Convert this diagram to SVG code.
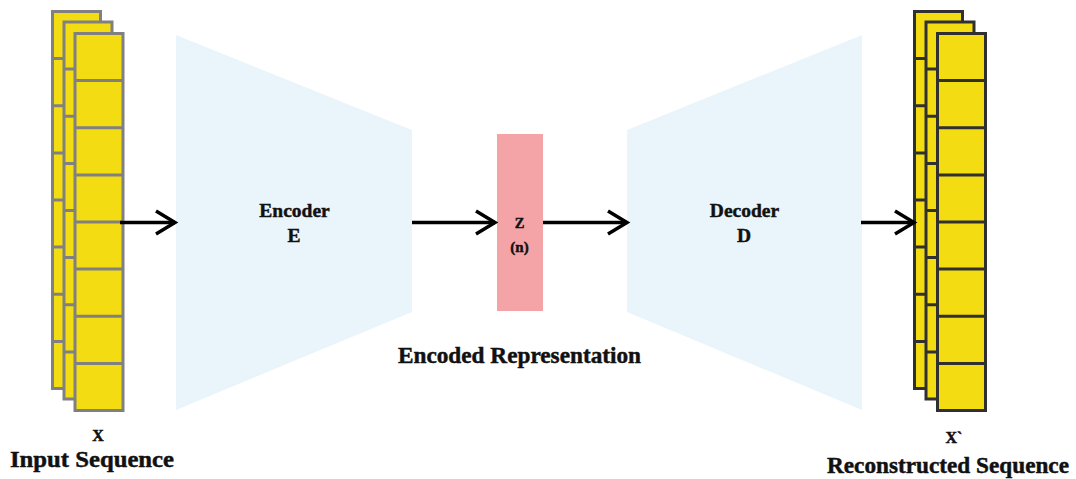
<svg xmlns="http://www.w3.org/2000/svg" xmlns:xlink="http://www.w3.org/1999/xlink" width="1076" height="479" viewBox="0 0 1076 479">
<style>
.lbl{font-family:"Liberation Serif","Times New Roman",serif;font-weight:bold;fill:#111;stroke:#111;stroke-width:0.45;text-anchor:middle}
.sheetL{fill:#F4DC12;stroke:#808080;stroke-width:3}
.sheetR{fill:#F4DC12;stroke:#303030;stroke-width:3}
.trap{fill:#EAF5FB}
.conn{stroke:#000;stroke-width:3.5;fill:none}
</style>
<defs>
<g id="sheet">
<rect x="0" y="0" width="48" height="377"/>
<path d="M0,47.1H48M0,94.25H48M0,141.4H48M0,188.5H48M0,235.6H48M0,282.75H48M0,329.9H48" fill="none"/>
</g>
<marker id="arr" markerUnits="userSpaceOnUse" markerWidth="26" markerHeight="28" viewBox="0 0 26 28" refX="22" refY="14" orient="auto" overflow="visible">
<path d="M3,2.5 L22,14 L3,25.5" fill="none" stroke="#000" stroke-width="3.5" stroke-linejoin="miter"/>
</marker>
</defs>
<rect width="1076" height="479" fill="#fff"/>

<g id="input-sequence">
<use xlink:href="#sheet" class="sheetL" x="52.5" y="11.5"/>
<use xlink:href="#sheet" class="sheetL" x="64" y="22"/>
<use xlink:href="#sheet" class="sheetL" x="75" y="33.5"/>
<text class="lbl" x="98" y="441" font-size="16">X</text>
<text class="lbl" x="92" y="467" font-size="23" textLength="164" lengthAdjust="spacingAndGlyphs">Input Sequence</text>
</g>

<g id="encoder">
<polygon class="trap" points="176,35 412,130 412,312 176,410"/>
<text class="lbl" x="294.5" y="217" font-size="19.5">Encoder</text>
<text class="lbl" x="294" y="242" font-size="19.5">E</text>
</g>

<g id="latent">
<rect x="497" y="134" width="46" height="177" fill="#F4A4A7"/>
<text class="lbl" x="519.5" y="228" font-size="14.5">Z</text>
<text class="lbl" x="519.5" y="252" font-size="15">(n)</text>
<text class="lbl" x="519.5" y="363" font-size="22.5" textLength="243" lengthAdjust="spacingAndGlyphs">Encoded Representation</text>
</g>

<g id="decoder">
<polygon class="trap" points="627,130 862,35 862,410 627,312"/>
<text class="lbl" x="744.5" y="217" font-size="19.5">Decoder</text>
<text class="lbl" x="744" y="242" font-size="19.5">D</text>
</g>

<g id="reconstructed-sequence">
<use xlink:href="#sheet" class="sheetR" x="914.5" y="11.5"/>
<use xlink:href="#sheet" class="sheetR" x="926" y="22"/>
<use xlink:href="#sheet" class="sheetR" x="937.5" y="33.5"/>
<text class="lbl" x="954" y="443" font-size="16">X`</text>
<text class="lbl" x="948" y="473" font-size="23" textLength="242" lengthAdjust="spacingAndGlyphs">Reconstructed Sequence</text>
</g>

<g id="connectors">
<path class="conn" d="M120,222.5H175" marker-end="url(#arr)"/>
<path class="conn" d="M412,222.5H495" marker-end="url(#arr)"/>
<path class="conn" d="M543,222.5H627" marker-end="url(#arr)"/>
<path class="conn" d="M861,222.5H914" marker-end="url(#arr)"/>
</g>
</svg>
